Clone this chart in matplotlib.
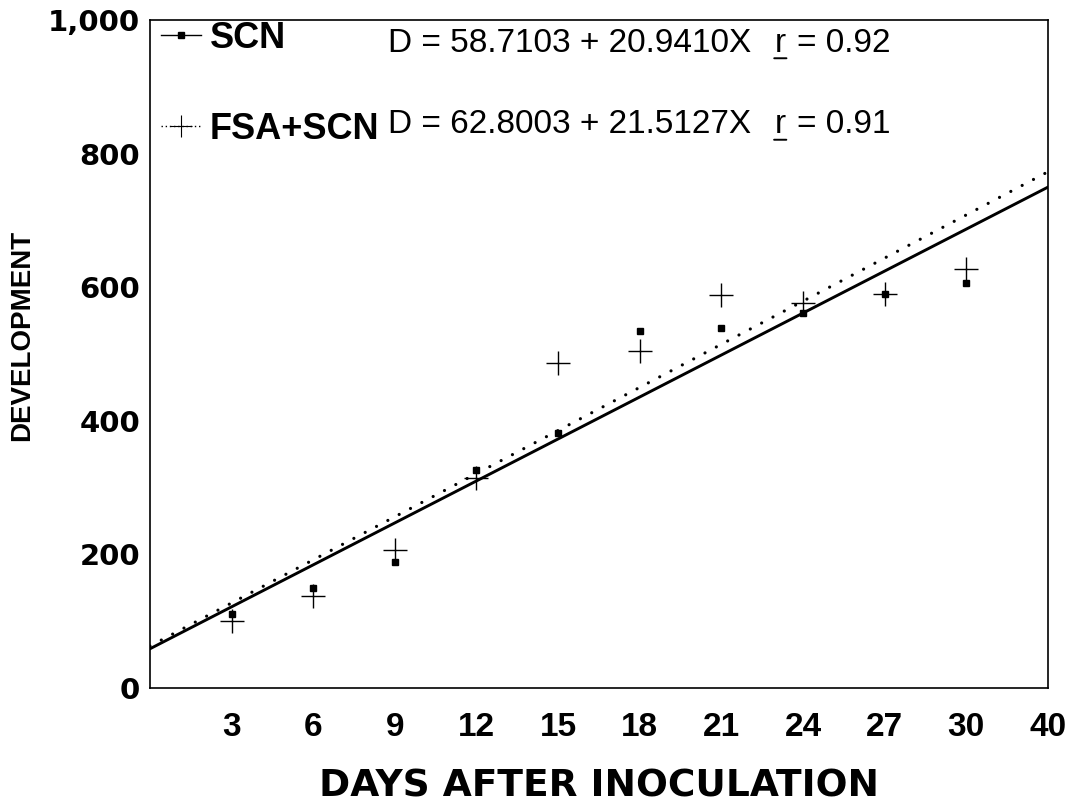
import matplotlib
matplotlib.use("Agg")
import matplotlib.pyplot as plt
from matplotlib.lines import Line2D

# data
days = [3, 6, 9, 12, 15, 18, 21, 24, 27, 30]
scn = [111, 149, 188, 326, 382, 535, 539, 562, 590, 606]
fsa_scn = [101, 138, 206, 314, 486, 505, 589, 576, 590, 627]

# last tick is labelled 40 but sits at the right end of the axis
tick_pos = days + [33]
tick_labels = [str(d) for d in days] + ["40"]
y_ticks = [0, 200, 400, 600, 800, 1000]
y_labels = ["0", "200", "400", "600", "800", "1,000"]

# regression lines  D = a + bX
scn_fit = (58.7103, 20.9410)
fsa_fit = (62.8003, 21.5127)
fit_x = [0, 33]

fig = plt.figure(figsize=(10.75, 8.06), dpi=100)
ax = fig.add_axes([0.1395, 0.1464, 0.8353, 0.8288])

ax.plot(fit_x, [scn_fit[0] + scn_fit[1] * x for x in fit_x], color="black", lw=2.1)
ax.plot(fit_x, [fsa_fit[0] + fsa_fit[1] * x for x in fit_x], color="black", lw=2.3,
        linestyle=(0, (0.01, 4.0)), dash_capstyle="round")
ax.plot(days, scn, linestyle="none", marker="s", ms=5, color="black")
ax.plot(days, fsa_scn, linestyle="none", marker="+", ms=17, mew=1.0, color="black")

ax.set_xlim(0, 33)
ax.set_ylim(0, 1000)
ax.set_xticks(tick_pos)
ax.set_xticklabels(tick_labels, fontfamily="Liberation Sans", fontweight="bold", fontsize=24)
ax.set_yticks(y_ticks)
ax.set_yticklabels(y_labels, fontfamily="DejaVu Sans", fontweight="bold", fontsize=21)
ax.tick_params(axis="both", length=0)
ax.tick_params(axis="x", pad=17)
ax.tick_params(axis="y", pad=7)
for s in ax.spines.values():
    s.set_linewidth(1.2)

ax.set_xlabel("DAYS AFTER INOCULATION", fontfamily="DejaVu Sans", fontweight="bold",
              fontsize=27, va="baseline")
ax.xaxis.set_label_coords(0.5, -0.162)
ax.set_ylabel("DEVELOPMENT", fontfamily="Liberation Sans", fontweight="bold",
              fontsize=20, va="center")
ax.yaxis.set_label_coords(-0.1425, 0.528)

# legend
handles = [
    Line2D([], [], color="black", lw=1.0, marker="s", ms=4),
    Line2D([], [], color="black", lw=1.0, linestyle=(0, (1, 2)), marker="+", ms=16, mew=0.8),
]
ax.legend(handles, ["SCN", "FSA+SCN"], loc="upper left", bbox_to_anchor=(0.0, 1.015),
          frameon=False, handlelength=1.1, handletextpad=0.25, labelspacing=1.55,
          borderaxespad=0.1, borderpad=0.2,
          prop={"family": "Liberation Sans", "weight": "bold", "size": 26})

eq_font = dict(fontfamily="Liberation Sans", fontsize=24, color="black")
for yrow, fit, rval in [(0.965, scn_fit, "0.92"), (0.843, fsa_fit, "0.91")]:
    t1 = ax.text(0.265, yrow, f"D = {fit[0]:.4f} + {fit[1]:.4f}X", transform=ax.transAxes,
                 va="center", ha="left", **eq_font)
    tr = ax.annotate("r", xy=(1, 0), xycoords=t1, xytext=(17, 0), textcoords="offset points",
                     va="bottom", ha="left", **eq_font)
    ax.annotate(f"= {rval}", xy=(1, 0), xycoords=tr, xytext=(8, 0), textcoords="offset points",
                va="bottom", ha="left", **eq_font)
    ax.annotate("", xy=(-0.05, 0.02), xycoords=tr, xytext=(1.05, 0.02), textcoords=tr,
                arrowprops=dict(arrowstyle="-", lw=1.4, color="black", shrinkA=0, shrinkB=0))

fig.savefig("out.png", dpi=100)
